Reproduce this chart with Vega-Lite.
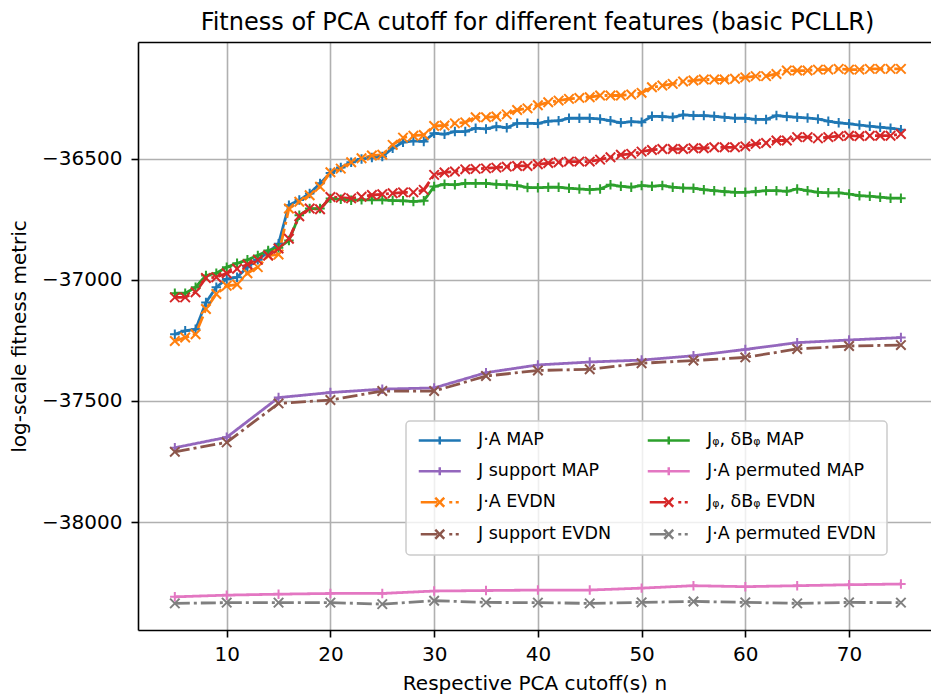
{
"$schema": "https://vega.github.io/schema/vega-lite/v6.json",
"width": 793, "height": 588,
"autosize": {"type": "none"},
"padding": {"left": 138, "top": 42, "right": 0, "bottom": 66},
"background": "white",
"title": {"text": "Fitness of PCA cutoff for different features (basic PCLLR)", "font": "DejaVu Sans", "fontSize": 24, "fontWeight": "normal", "color": "black", "anchor": "middle", "frame": "group", "offset": -12, "baseline": "alphabetic", "dx": 3},
"config": {
  "view": {"stroke": null},
  "font": "DejaVu Sans",
  "axis": {"domainColor": "black", "domainWidth": 1.6, "tickColor": "black", "tickWidth": 1.6, "tickSize": 7, "labelFont": "DejaVu Sans", "labelFontSize": 20, "labelColor": "black", "titleFont": "DejaVu Sans", "titleFontSize": 20, "titleFontWeight": "normal", "titleColor": "black", "gridColor": "#b0b0b0", "gridWidth": 1.6, "gridOpacity": 1}
},
"data": {"values": [
{"series":"J·A MAP","n":5,"v":-37224},{"series":"J·A MAP","n":6,"v":-37210},{"series":"J·A MAP","n":7,"v":-37204},{"series":"J·A MAP","n":8,"v":-37093},{"series":"J·A MAP","n":9,"v":-37030},{"series":"J·A MAP","n":10,"v":-36996},{"series":"J·A MAP","n":11,"v":-36989},{"series":"J·A MAP","n":12,"v":-36947},{"series":"J·A MAP","n":13,"v":-36917},{"series":"J·A MAP","n":14,"v":-36885},{"series":"J·A MAP","n":15,"v":-36850},
{"series":"J·A MAP","n":16,"v":-36691},{"series":"J·A MAP","n":17,"v":-36670},{"series":"J·A MAP","n":18,"v":-36643},{"series":"J·A MAP","n":19,"v":-36601},{"series":"J·A MAP","n":20,"v":-36558},{"series":"J·A MAP","n":21,"v":-36535},{"series":"J·A MAP","n":22,"v":-36514},{"series":"J·A MAP","n":23,"v":-36500},{"series":"J·A MAP","n":24,"v":-36494},{"series":"J·A MAP","n":25,"v":-36490},
{"series":"J·A MAP","n":26,"v":-36456},{"series":"J·A MAP","n":27,"v":-36431},{"series":"J·A MAP","n":28,"v":-36426},{"series":"J·A MAP","n":29,"v":-36428},{"series":"J·A MAP","n":30,"v":-36394},{"series":"J·A MAP","n":31,"v":-36398},{"series":"J·A MAP","n":32,"v":-36387},{"series":"J·A MAP","n":33,"v":-36387},{"series":"J·A MAP","n":34,"v":-36373},{"series":"J·A MAP","n":35,"v":-36376},
{"series":"J·A MAP","n":36,"v":-36366},{"series":"J·A MAP","n":37,"v":-36371},{"series":"J·A MAP","n":38,"v":-36353},{"series":"J·A MAP","n":39,"v":-36353},{"series":"J·A MAP","n":40,"v":-36354},{"series":"J·A MAP","n":41,"v":-36344},{"series":"J·A MAP","n":42,"v":-36342},{"series":"J·A MAP","n":43,"v":-36332},{"series":"J·A MAP","n":44,"v":-36332},{"series":"J·A MAP","n":45,"v":-36332},
{"series":"J·A MAP","n":46,"v":-36335},{"series":"J·A MAP","n":47,"v":-36342},{"series":"J·A MAP","n":48,"v":-36351},{"series":"J·A MAP","n":49,"v":-36346},{"series":"J·A MAP","n":50,"v":-36348},{"series":"J·A MAP","n":51,"v":-36324},{"series":"J·A MAP","n":52,"v":-36325},{"series":"J·A MAP","n":53,"v":-36328},{"series":"J·A MAP","n":54,"v":-36318},{"series":"J·A MAP","n":55,"v":-36321},
{"series":"J·A MAP","n":56,"v":-36321},{"series":"J·A MAP","n":57,"v":-36324},{"series":"J·A MAP","n":58,"v":-36328},{"series":"J·A MAP","n":59,"v":-36332},{"series":"J·A MAP","n":60,"v":-36332},{"series":"J·A MAP","n":61,"v":-36337},{"series":"J·A MAP","n":62,"v":-36337},{"series":"J·A MAP","n":63,"v":-36321},{"series":"J·A MAP","n":64,"v":-36325},{"series":"J·A MAP","n":65,"v":-36328},
{"series":"J·A MAP","n":66,"v":-36331},{"series":"J·A MAP","n":67,"v":-36335},{"series":"J·A MAP","n":68,"v":-36344},{"series":"J·A MAP","n":69,"v":-36351},{"series":"J·A MAP","n":70,"v":-36355},{"series":"J·A MAP","n":71,"v":-36360},{"series":"J·A MAP","n":72,"v":-36365},{"series":"J·A MAP","n":73,"v":-36369},{"series":"J·A MAP","n":74,"v":-36373},{"series":"J·A MAP","n":75,"v":-36379},

{"series":"J·A EVDN","n":5,"v":-37252},{"series":"J·A EVDN","n":6,"v":-37238},{"series":"J·A EVDN","n":7,"v":-37224},{"series":"J·A EVDN","n":8,"v":-37120},{"series":"J·A EVDN","n":9,"v":-37058},{"series":"J·A EVDN","n":10,"v":-37024},{"series":"J·A EVDN","n":11,"v":-37019},{"series":"J·A EVDN","n":12,"v":-36972},{"series":"J·A EVDN","n":13,"v":-36947},{"series":"J·A EVDN","n":14,"v":-36899},{"series":"J·A EVDN","n":15,"v":-36895},
{"series":"J·A EVDN","n":16,"v":-36705},{"series":"J·A EVDN","n":17,"v":-36677},{"series":"J·A EVDN","n":18,"v":-36650},{"series":"J·A EVDN","n":19,"v":-36615},{"series":"J·A EVDN","n":20,"v":-36555},{"series":"J·A EVDN","n":21,"v":-36540},{"series":"J·A EVDN","n":22,"v":-36514},{"series":"J·A EVDN","n":23,"v":-36497},{"series":"J·A EVDN","n":24,"v":-36486},{"series":"J·A EVDN","n":25,"v":-36483},
{"series":"J·A EVDN","n":26,"v":-36442},{"series":"J·A EVDN","n":27,"v":-36412},{"series":"J·A EVDN","n":28,"v":-36404},{"series":"J·A EVDN","n":29,"v":-36401},{"series":"J·A EVDN","n":30,"v":-36364},{"series":"J·A EVDN","n":31,"v":-36362},{"series":"J·A EVDN","n":32,"v":-36353},{"series":"J·A EVDN","n":33,"v":-36349},{"series":"J·A EVDN","n":34,"v":-36328},{"series":"J·A EVDN","n":35,"v":-36328},
{"series":"J·A EVDN","n":36,"v":-36325},{"series":"J·A EVDN","n":37,"v":-36316},{"series":"J·A EVDN","n":38,"v":-36298},{"series":"J·A EVDN","n":39,"v":-36291},{"series":"J·A EVDN","n":40,"v":-36278},{"series":"J·A EVDN","n":41,"v":-36266},{"series":"J·A EVDN","n":42,"v":-36259},{"series":"J·A EVDN","n":43,"v":-36252},{"series":"J·A EVDN","n":44,"v":-36248},{"series":"J·A EVDN","n":45,"v":-36245},
{"series":"J·A EVDN","n":46,"v":-36238},{"series":"J·A EVDN","n":47,"v":-36238},{"series":"J·A EVDN","n":48,"v":-36238},{"series":"J·A EVDN","n":49,"v":-36234},{"series":"J·A EVDN","n":50,"v":-36227},{"series":"J·A EVDN","n":51,"v":-36204},{"series":"J·A EVDN","n":52,"v":-36197},{"series":"J·A EVDN","n":53,"v":-36190},{"series":"J·A EVDN","n":54,"v":-36180},{"series":"J·A EVDN","n":55,"v":-36176},
{"series":"J·A EVDN","n":56,"v":-36172},{"series":"J·A EVDN","n":57,"v":-36172},{"series":"J·A EVDN","n":58,"v":-36172},{"series":"J·A EVDN","n":59,"v":-36169},{"series":"J·A EVDN","n":60,"v":-36163},{"series":"J·A EVDN","n":61,"v":-36158},{"series":"J·A EVDN","n":62,"v":-36158},{"series":"J·A EVDN","n":63,"v":-36149},{"series":"J·A EVDN","n":64,"v":-36135},{"series":"J·A EVDN","n":65,"v":-36135},
{"series":"J·A EVDN","n":66,"v":-36135},{"series":"J·A EVDN","n":67,"v":-36131},{"series":"J·A EVDN","n":68,"v":-36131},{"series":"J·A EVDN","n":69,"v":-36128},{"series":"J·A EVDN","n":70,"v":-36131},{"series":"J·A EVDN","n":71,"v":-36131},{"series":"J·A EVDN","n":72,"v":-36128},{"series":"J·A EVDN","n":73,"v":-36128},{"series":"J·A EVDN","n":74,"v":-36128},{"series":"J·A EVDN","n":75,"v":-36128},

{"series":"Jᵩ, δBᵩ MAP","n":5,"v":-37055},{"series":"Jᵩ, δBᵩ MAP","n":6,"v":-37055},{"series":"Jᵩ, δBᵩ MAP","n":7,"v":-37030},{"series":"Jᵩ, δBᵩ MAP","n":8,"v":-36982},{"series":"Jᵩ, δBᵩ MAP","n":9,"v":-36972},{"series":"Jᵩ, δBᵩ MAP","n":10,"v":-36947},{"series":"Jᵩ, δBᵩ MAP","n":11,"v":-36931},{"series":"Jᵩ, δBᵩ MAP","n":12,"v":-36917},{"series":"Jᵩ, δBᵩ MAP","n":13,"v":-36899},{"series":"Jᵩ, δBᵩ MAP","n":14,"v":-36878},{"series":"Jᵩ, δBᵩ MAP","n":15,"v":-36867},
{"series":"Jᵩ, δBᵩ MAP","n":16,"v":-36837},{"series":"Jᵩ, δBᵩ MAP","n":17,"v":-36733},{"series":"Jᵩ, δBᵩ MAP","n":18,"v":-36705},{"series":"Jᵩ, δBᵩ MAP","n":19,"v":-36705},{"series":"Jᵩ, δBᵩ MAP","n":20,"v":-36663},{"series":"Jᵩ, δBᵩ MAP","n":21,"v":-36667},{"series":"Jᵩ, δBᵩ MAP","n":22,"v":-36671},{"series":"Jᵩ, δBᵩ MAP","n":23,"v":-36669},{"series":"Jᵩ, δBᵩ MAP","n":24,"v":-36669},{"series":"Jᵩ, δBᵩ MAP","n":25,"v":-36669},
{"series":"Jᵩ, δBᵩ MAP","n":26,"v":-36672},{"series":"Jᵩ, δBᵩ MAP","n":27,"v":-36673},{"series":"Jᵩ, δBᵩ MAP","n":28,"v":-36676},{"series":"Jᵩ, δBᵩ MAP","n":29,"v":-36673},{"series":"Jᵩ, δBᵩ MAP","n":30,"v":-36614},{"series":"Jᵩ, δBᵩ MAP","n":31,"v":-36605},{"series":"Jᵩ, δBᵩ MAP","n":32,"v":-36607},{"series":"Jᵩ, δBᵩ MAP","n":33,"v":-36601},{"series":"Jᵩ, δBᵩ MAP","n":34,"v":-36601},{"series":"Jᵩ, δBᵩ MAP","n":35,"v":-36601},
{"series":"Jᵩ, δBᵩ MAP","n":36,"v":-36605},{"series":"Jᵩ, δBᵩ MAP","n":37,"v":-36607},{"series":"Jᵩ, δBᵩ MAP","n":38,"v":-36610},{"series":"Jᵩ, δBᵩ MAP","n":39,"v":-36618},{"series":"Jᵩ, δBᵩ MAP","n":40,"v":-36619},{"series":"Jᵩ, δBᵩ MAP","n":41,"v":-36617},{"series":"Jᵩ, δBᵩ MAP","n":42,"v":-36617},{"series":"Jᵩ, δBᵩ MAP","n":43,"v":-36621},{"series":"Jᵩ, δBᵩ MAP","n":44,"v":-36624},{"series":"Jᵩ, δBᵩ MAP","n":45,"v":-36627},
{"series":"Jᵩ, δBᵩ MAP","n":46,"v":-36624},{"series":"Jᵩ, δBᵩ MAP","n":47,"v":-36607},{"series":"Jᵩ, δBᵩ MAP","n":48,"v":-36613},{"series":"Jᵩ, δBᵩ MAP","n":49,"v":-36617},{"series":"Jᵩ, δBᵩ MAP","n":50,"v":-36610},{"series":"Jᵩ, δBᵩ MAP","n":51,"v":-36613},{"series":"Jᵩ, δBᵩ MAP","n":52,"v":-36610},{"series":"Jᵩ, δBᵩ MAP","n":53,"v":-36617},{"series":"Jᵩ, δBᵩ MAP","n":54,"v":-36620},{"series":"Jᵩ, δBᵩ MAP","n":55,"v":-36621},
{"series":"Jᵩ, δBᵩ MAP","n":56,"v":-36627},{"series":"Jᵩ, δBᵩ MAP","n":57,"v":-36631},{"series":"Jᵩ, δBᵩ MAP","n":58,"v":-36635},{"series":"Jᵩ, δBᵩ MAP","n":59,"v":-36638},{"series":"Jᵩ, δBᵩ MAP","n":60,"v":-36638},{"series":"Jᵩ, δBᵩ MAP","n":61,"v":-36635},{"series":"Jᵩ, δBᵩ MAP","n":62,"v":-36631},{"series":"Jᵩ, δBᵩ MAP","n":63,"v":-36631},{"series":"Jᵩ, δBᵩ MAP","n":64,"v":-36634},{"series":"Jᵩ, δBᵩ MAP","n":65,"v":-36624},
{"series":"Jᵩ, δBᵩ MAP","n":66,"v":-36631},{"series":"Jᵩ, δBᵩ MAP","n":67,"v":-36638},{"series":"Jᵩ, δBᵩ MAP","n":68,"v":-36640},{"series":"Jᵩ, δBᵩ MAP","n":69,"v":-36640},{"series":"Jᵩ, δBᵩ MAP","n":70,"v":-36645},{"series":"Jᵩ, δBᵩ MAP","n":71,"v":-36652},{"series":"Jᵩ, δBᵩ MAP","n":72,"v":-36654},{"series":"Jᵩ, δBᵩ MAP","n":73,"v":-36658},{"series":"Jᵩ, δBᵩ MAP","n":74,"v":-36662},{"series":"Jᵩ, δBᵩ MAP","n":75,"v":-36662},

{"series":"Jᵩ, δBᵩ EVDN","n":5,"v":-37072},{"series":"Jᵩ, δBᵩ EVDN","n":6,"v":-37072},{"series":"Jᵩ, δBᵩ EVDN","n":7,"v":-37051},{"series":"Jᵩ, δBᵩ EVDN","n":8,"v":-36992},{"series":"Jᵩ, δBᵩ EVDN","n":9,"v":-36989},{"series":"Jᵩ, δBᵩ EVDN","n":10,"v":-36972},{"series":"Jᵩ, δBᵩ EVDN","n":11,"v":-36954},{"series":"Jᵩ, δBᵩ EVDN","n":12,"v":-36936},{"series":"Jᵩ, δBᵩ EVDN","n":13,"v":-36917},{"series":"Jᵩ, δBᵩ EVDN","n":14,"v":-36899},{"series":"Jᵩ, δBᵩ EVDN","n":15,"v":-36870},
{"series":"Jᵩ, δBᵩ EVDN","n":16,"v":-36830},{"series":"Jᵩ, δBᵩ EVDN","n":17,"v":-36737},{"series":"Jᵩ, δBᵩ EVDN","n":18,"v":-36705},{"series":"Jᵩ, δBᵩ EVDN","n":19,"v":-36708},{"series":"Jᵩ, δBᵩ EVDN","n":20,"v":-36657},{"series":"Jᵩ, δBᵩ EVDN","n":21,"v":-36660},{"series":"Jᵩ, δBᵩ EVDN","n":22,"v":-36663},{"series":"Jᵩ, δBᵩ EVDN","n":23,"v":-36656},{"series":"Jᵩ, δBᵩ EVDN","n":24,"v":-36649},{"series":"Jᵩ, δBᵩ EVDN","n":25,"v":-36646},
{"series":"Jᵩ, δBᵩ EVDN","n":26,"v":-36642},{"series":"Jᵩ, δBᵩ EVDN","n":27,"v":-36638},{"series":"Jᵩ, δBᵩ EVDN","n":28,"v":-36638},{"series":"Jᵩ, δBᵩ EVDN","n":29,"v":-36628},{"series":"Jᵩ, δBᵩ EVDN","n":30,"v":-36566},{"series":"Jᵩ, δBᵩ EVDN","n":31,"v":-36556},{"series":"Jᵩ, δBᵩ EVDN","n":32,"v":-36552},{"series":"Jᵩ, δBᵩ EVDN","n":33,"v":-36543},{"series":"Jᵩ, δBᵩ EVDN","n":34,"v":-36541},{"series":"Jᵩ, δBᵩ EVDN","n":35,"v":-36539},
{"series":"Jᵩ, δBᵩ EVDN","n":36,"v":-36536},{"series":"Jᵩ, δBᵩ EVDN","n":37,"v":-36532},{"series":"Jᵩ, δBᵩ EVDN","n":38,"v":-36529},{"series":"Jᵩ, δBᵩ EVDN","n":39,"v":-36529},{"series":"Jᵩ, δBᵩ EVDN","n":40,"v":-36522},{"series":"Jᵩ, δBᵩ EVDN","n":41,"v":-36517},{"series":"Jᵩ, δBᵩ EVDN","n":42,"v":-36514},{"series":"Jᵩ, δBᵩ EVDN","n":43,"v":-36511},{"series":"Jᵩ, δBᵩ EVDN","n":44,"v":-36511},{"series":"Jᵩ, δBᵩ EVDN","n":45,"v":-36511},
{"series":"Jᵩ, δBᵩ EVDN","n":46,"v":-36503},{"series":"Jᵩ, δBᵩ EVDN","n":47,"v":-36493},{"series":"Jᵩ, δBᵩ EVDN","n":48,"v":-36483},{"series":"Jᵩ, δBᵩ EVDN","n":49,"v":-36479},{"series":"Jᵩ, δBᵩ EVDN","n":50,"v":-36470},{"series":"Jᵩ, δBᵩ EVDN","n":51,"v":-36463},{"series":"Jᵩ, δBᵩ EVDN","n":52,"v":-36459},{"series":"Jᵩ, δBᵩ EVDN","n":53,"v":-36459},{"series":"Jᵩ, δBᵩ EVDN","n":54,"v":-36459},{"series":"Jᵩ, δBᵩ EVDN","n":55,"v":-36456},
{"series":"Jᵩ, δBᵩ EVDN","n":56,"v":-36456},{"series":"Jᵩ, δBᵩ EVDN","n":57,"v":-36452},{"series":"Jᵩ, δBᵩ EVDN","n":58,"v":-36452},{"series":"Jᵩ, δBᵩ EVDN","n":59,"v":-36452},{"series":"Jᵩ, δBᵩ EVDN","n":60,"v":-36448},{"series":"Jᵩ, δBᵩ EVDN","n":61,"v":-36438},{"series":"Jᵩ, δBᵩ EVDN","n":62,"v":-36434},{"series":"Jᵩ, δBᵩ EVDN","n":63,"v":-36424},{"series":"Jᵩ, δBᵩ EVDN","n":64,"v":-36424},{"series":"Jᵩ, δBᵩ EVDN","n":65,"v":-36410},
{"series":"Jᵩ, δBᵩ EVDN","n":66,"v":-36410},{"series":"Jᵩ, δBᵩ EVDN","n":67,"v":-36415},{"series":"Jᵩ, δBᵩ EVDN","n":68,"v":-36410},{"series":"Jᵩ, δBᵩ EVDN","n":69,"v":-36406},{"series":"Jᵩ, δBᵩ EVDN","n":70,"v":-36404},{"series":"Jᵩ, δBᵩ EVDN","n":71,"v":-36406},{"series":"Jᵩ, δBᵩ EVDN","n":72,"v":-36404},{"series":"Jᵩ, δBᵩ EVDN","n":73,"v":-36404},{"series":"Jᵩ, δBᵩ EVDN","n":74,"v":-36404},{"series":"Jᵩ, δBᵩ EVDN","n":75,"v":-36397},

{"series":"J support MAP","n":5,"v":-37693},{"series":"J support MAP","n":10,"v":-37650},{"series":"J support MAP","n":15,"v":-37486},{"series":"J support MAP","n":20,"v":-37465},{"series":"J support MAP","n":25,"v":-37451},{"series":"J support MAP","n":30,"v":-37446},{"series":"J support MAP","n":35,"v":-37383},{"series":"J support MAP","n":40,"v":-37351},{"series":"J support MAP","n":45,"v":-37339},{"series":"J support MAP","n":50,"v":-37331},{"series":"J support MAP","n":55,"v":-37313},{"series":"J support MAP","n":60,"v":-37287},{"series":"J support MAP","n":65,"v":-37259},{"series":"J support MAP","n":70,"v":-37248},{"series":"J support MAP","n":75,"v":-37238},

{"series":"J support EVDN","n":5,"v":-37710},{"series":"J support EVDN","n":10,"v":-37671},{"series":"J support EVDN","n":15,"v":-37510},{"series":"J support EVDN","n":20,"v":-37496},{"series":"J support EVDN","n":25,"v":-37459},{"series":"J support EVDN","n":30,"v":-37459},{"series":"J support EVDN","n":35,"v":-37397},{"series":"J support EVDN","n":40,"v":-37374},{"series":"J support EVDN","n":45,"v":-37369},{"series":"J support EVDN","n":50,"v":-37344},{"series":"J support EVDN","n":55,"v":-37333},{"series":"J support EVDN","n":60,"v":-37320},{"series":"J support EVDN","n":65,"v":-37285},{"series":"J support EVDN","n":70,"v":-37273},{"series":"J support EVDN","n":75,"v":-37269},

{"series":"J·A permuted MAP","n":5,"v":-38309},{"series":"J·A permuted MAP","n":10,"v":-38302},{"series":"J·A permuted MAP","n":15,"v":-38298},{"series":"J·A permuted MAP","n":20,"v":-38295},{"series":"J·A permuted MAP","n":25,"v":-38295},{"series":"J·A permuted MAP","n":30,"v":-38285},{"series":"J·A permuted MAP","n":35,"v":-38283},{"series":"J·A permuted MAP","n":40,"v":-38281},{"series":"J·A permuted MAP","n":45,"v":-38281},{"series":"J·A permuted MAP","n":50,"v":-38273},{"series":"J·A permuted MAP","n":55,"v":-38263},{"series":"J·A permuted MAP","n":60,"v":-38267},{"series":"J·A permuted MAP","n":65,"v":-38263},{"series":"J·A permuted MAP","n":70,"v":-38259},{"series":"J·A permuted MAP","n":75,"v":-38256},

{"series":"J·A permuted EVDN","n":5,"v":-38336},{"series":"J·A permuted EVDN","n":10,"v":-38333},{"series":"J·A permuted EVDN","n":15,"v":-38333},{"series":"J·A permuted EVDN","n":20,"v":-38333},{"series":"J·A permuted EVDN","n":25,"v":-38339},{"series":"J·A permuted EVDN","n":30,"v":-38325},{"series":"J·A permuted EVDN","n":35,"v":-38332},{"series":"J·A permuted EVDN","n":40,"v":-38333},{"series":"J·A permuted EVDN","n":45,"v":-38336},{"series":"J·A permuted EVDN","n":50,"v":-38332},{"series":"J·A permuted EVDN","n":55,"v":-38328},{"series":"J·A permuted EVDN","n":60,"v":-38332},{"series":"J·A permuted EVDN","n":65,"v":-38336},{"series":"J·A permuted EVDN","n":70,"v":-38332},{"series":"J·A permuted EVDN","n":75,"v":-38333}
]},
"resolve": {"axis": {"x": "independent"}, "legend": {"color": "independent"}},
"layer": [
  {
    "mark": {"type": "line", "strokeWidth": 2.8},
    "encoding": {
      "x": {"field": "n", "type": "quantitative", "scale": {"domain": [1.45, 77.9], "nice": false, "zero": false},
            "axis": {"values": [10, 20, 30, 40, 50, 60, 70], "grid": true, "labelPadding": 7.5, "title": "Respective PCA cutoff(s) n", "titlePadding": 9}},
      "y": {"field": "v", "type": "quantitative", "scale": {"domain": [-38446, -36017], "nice": false, "zero": false},
            "axis": {"values": [-38000, -37500, -37000, -36500], "format": "d", "grid": true, "labelPadding": 9, "title": "log-scale fitness metric", "titlePadding": 12}},
      "color": {"field": "series", "type": "nominal",
        "scale": {"domain": ["J·A MAP", "J support MAP", "J·A EVDN", "J support EVDN", "Jᵩ, δBᵩ MAP", "J·A permuted MAP", "Jᵩ, δBᵩ EVDN", "J·A permuted EVDN"],
                  "range": ["#1f77b4", "#9467bd", "#ff7f0e", "#8c564b", "#2ca02c", "#e377c2", "#d62728", "#7f7f7f"]},
        "legend": {"orient": "none", "legendX": 268, "legendY": 379, "columns": 2, "title": null,
          "labelFont": "DejaVu Sans", "labelFontSize": 17.5, "labelColor": "black", "labelLimit": 400,
          "symbolSize": 100, "symbolStrokeWidth": 2.5, "symbolOffset": 14.5, "labelOffset": 29.5, "symbolFillColor": "transparent",
          "rowPadding": 12, "columnPadding": 31, "padding": 10.5,
          "fillColor": "rgba(255,255,255,0.8)", "strokeColor": "#cccccc", "cornerRadius": 4,
          "encode": {
            "symbols": {"update": {
              "shape": {"signal": "indexof(datum.value, 'EVDN') >= 0 ? 'M-3.8,0H-0.5M-0.9,-0.9L0.9,0.9M-0.9,0.9L0.9,-0.9M1.9,0H2.5M3.2,0H3.8' : 'M-4.2,0H4.2M0,-0.8V0.8'"},
              "fill": {"value": "transparent"},
              "strokeWidth": {"value": 2.5},
              "strokeDash": {"value": [1, 0]}
            }},
            "legend": {"update": {"strokeWidth": {"value": 1.5}}}
          }
        }},
      "strokeDash": {"field": "series", "type": "nominal",
        "scale": {"domain": ["J·A MAP", "J support MAP", "J·A EVDN", "J support EVDN", "Jᵩ, δBᵩ MAP", "J·A permuted MAP", "Jᵩ, δBᵩ EVDN", "J·A permuted EVDN"],
                  "range": [[1, 0], [1, 0], [15, 4, 3, 4], [15, 4, 3, 4], [1, 0], [1, 0], [15, 4, 3, 4], [15, 4, 3, 4]]},
        "legend": null}
    }
  },
  {
    "mark": {"type": "point", "filled": false, "size": 90, "strokeWidth": 2, "opacity": 1},
    "encoding": {
      "x": {"field": "n", "type": "quantitative",
            "axis": {"orient": "top", "labels": false, "ticks": false, "grid": false, "title": null, "domain": true, "minExtent": 0, "maxExtent": 0, "offset": 0}},
      "y": {"field": "v", "type": "quantitative"},
      "color": {"field": "series", "type": "nominal", "legend": null},
      "shape": {"field": "series", "type": "nominal",
        "scale": {"domain": ["J·A MAP", "J support MAP", "J·A EVDN", "J support EVDN", "Jᵩ, δBᵩ MAP", "J·A permuted MAP", "Jᵩ, δBᵩ EVDN", "J·A permuted EVDN"],
                  "range": ["M-1,0H1M0,-1V1", "M-1,0H1M0,-1V1", "M-1,-1L1,1M-1,1L1,-1", "M-1,-1L1,1M-1,1L1,-1", "M-1,0H1M0,-1V1", "M-1,0H1M0,-1V1", "M-1,-1L1,1M-1,1L1,-1", "M-1,-1L1,1M-1,1L1,-1"]},
        "legend": null}
    }
  }
]
}
